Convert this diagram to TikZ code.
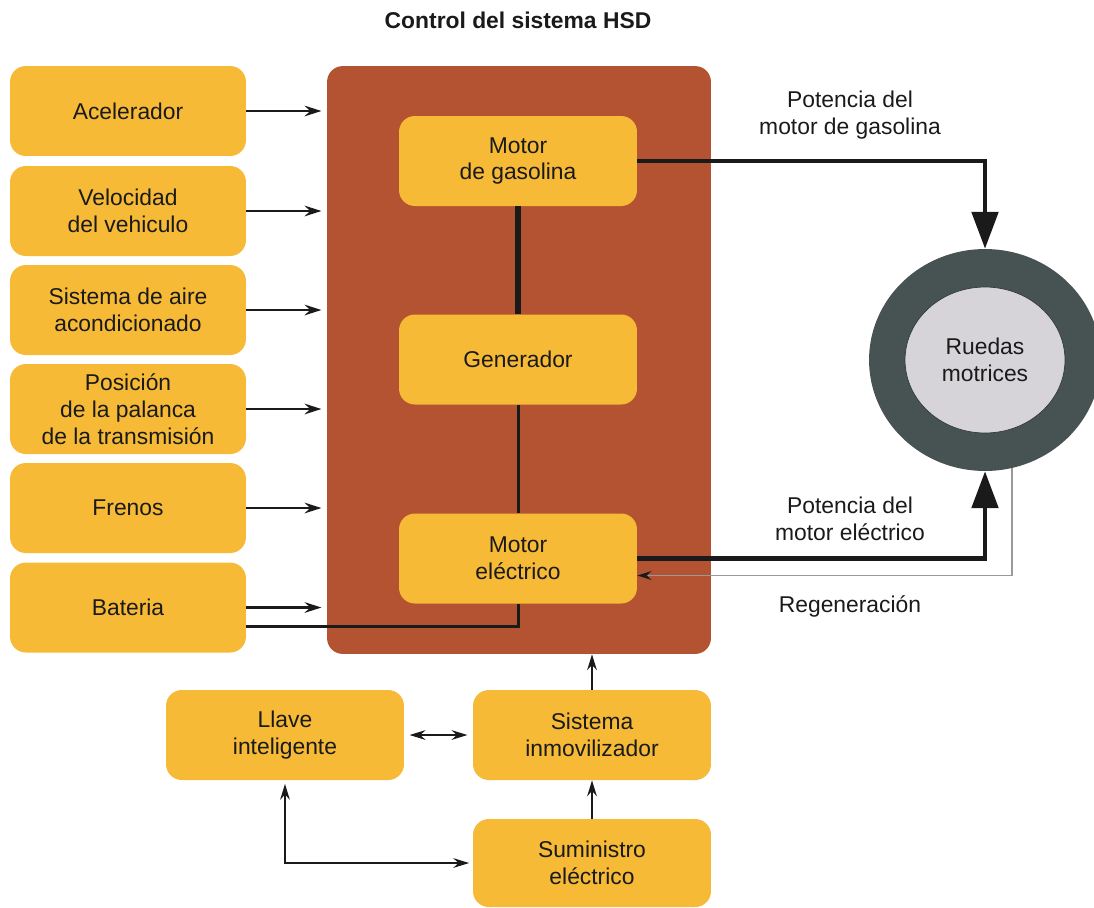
\documentclass[tikz,border=0pt]{standalone}
\usepackage{fontspec}
\setmainfont{Liberation Sans}
\usetikzlibrary{arrows.meta,shapes.geometric,calc}

\definecolor{boxyellow}{HTML}{F6BA37}
\definecolor{ctrlbrown}{HTML}{B45331}
\definecolor{tyre}{HTML}{465352}
\definecolor{hub}{HTML}{D6D4D8}
\definecolor{ink}{HTML}{1A1A1A}

\begin{document}
\begin{tikzpicture}[x=0.02cm,y=-0.02cm,
  every node/.style={font=\fontsize{13}{15.3}\selectfont, text=ink},
  ybox/.style={fill=boxyellow, rounded corners=9pt, align=center,
    minimum width=4.72cm, minimum height=1.8cm, inner sep=0pt},
  ibox/.style={ybox, minimum width=4.76cm},
  sig/.style={draw=ink, line width=1.4pt, -{Stealth[length=9.5pt,width=6pt]}},
  thin/.style={draw=ink, line width=0.9pt},
  thinarrow/.style={thin, -{Stealth[length=9pt,width=5.5pt]}},
  twoway/.style={thin, {Stealth[length=9pt,width=5.5pt]}-{Stealth[length=9pt,width=5.5pt]}},
  power/.style={draw=ink, line width=2.4pt, -{Triangle[length=21pt,width=15pt]}},
  shaft/.style={draw=ink, line width=1.7pt},
]
\useasboundingbox (0,0) rectangle (1094,907);

% title
\node[font=\bfseries\fontsize{13}{15.3}\selectfont] (title) at (518,20) {Control del sistema HSD};

% central control block
\node[fill=ctrlbrown, rounded corners=9pt, minimum width=7.68cm,
  minimum height=11.76cm, inner sep=0pt] (ctrl) at (519,360) {};

% input sensors
\node[ybox] (acc) at (128,111)   {Acelerador};
\node[ybox] (vel) at (128,211)   {Velocidad\\del vehiculo};
\node[ybox] (air) at (128,310)   {Sistema de aire\\acondicionado};
\node[ybox] (pal) at (128,409)   {Posición\\de la palanca\\de la transmisión};
\node[ybox] (fre) at (128,508)   {Frenos};
\node[ybox] (bat) at (128,607.5) {Bateria};

% power units inside the control block
\node[ibox] (mg)  at (518,161)   {Motor\\de gasolina};
\node[ibox] (gen) at (518,359.5) {Generador};
\node[ibox] (me)  at (518,558.5) {Motor\\eléctrico};

% driven wheels
\node[ellipse, fill=tyre, minimum width=4.64cm, minimum height=4.44cm,
  inner sep=0pt] (wheel) at (985,360) {};
\node[ellipse, fill=hub, draw=tyre!70!black, line width=0.4pt,
  minimum width=3.2cm, minimum height=2.92cm, inner sep=0pt,
  align=center] (hubn) at (985,360) {Ruedas\\motrices};

% immobilizer chain
\node[ibox] (key) at (285,735) {Llave\\inteligente};
\node[ibox] (imm) at (592,735) {Sistema\\inmovilizador};
\node[ibox, minimum height=1.76cm] (sup) at (592,863) {Suministro\\eléctrico};

% sensor signals into the control block
\foreach \s in {acc,vel,air,pal,fre,bat}
  \draw[sig, shorten >=3pt] (\s.east) -- (\s.east -| ctrl.west);

% battery feed to the electric motor
\draw[shaft] ($(bat.east)+(0,19)$) -| (me.south);

% mechanical links
\draw[draw=ink, line width=3pt] (mg.south) -- (gen.north);
\draw[shaft] (gen.south) -- (me.north);

% power flows to the wheels
\draw[power] (mg.east) -| (wheel.north);
\draw[power] (me.east) -| (wheel.south);
\draw[draw=gray!80, line width=1pt, -{Stealth[length=8pt,width=5pt,color=ink]}]
  (wheel.-76) |- ($(me.east)+(0,17)$);

% flow labels
\node[align=center] (lg) at (850,115) {Potencia del\\motor de gasolina};
\node[align=center] (le) at (850,519) {Potencia del\\motor eléctrico};
\node (lr) at (850,606) {Regeneración};

% immobilizer connections
\draw[thinarrow] (imm.north) -- (imm.north |- ctrl.south);
\draw[twoway, shorten <=3pt, shorten >=3pt] (key.east) -- (imm.west);
\draw[thinarrow] (sup.north) -- (imm.south);
\draw[twoway, shorten <=2pt, shorten >=2pt] (key.south) |- (sup.west);
\end{tikzpicture}
\end{document}
